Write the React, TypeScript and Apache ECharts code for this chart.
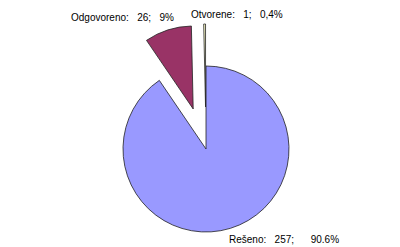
import React, { useEffect, useRef } from "react";
import * as echarts from "echarts";

const categories = ["Rešeno", "Odgovoreno", "Otvorene"];
const counts = [257, 26, 1];
const percentLabels = ["90.6%", "9%", "0,4%"];
const sliceColors = ["#9999FF", "#993366", "#FFFFCC"];
const exploded = [false, true, true];

// label anchor points (left edge, vertical middle) per slice
const labelAnchors: [number, number][] = [
  [229, 239],
  [71, 17],
  [191, 14],
];

const labelFont = "Liberation Sans, Arial, sans-serif";

export default function App() {
  const ref = useRef<HTMLDivElement>(null);

  useEffect(() => {
    if (!ref.current) return;
    const chart = echarts.init(ref.current, undefined, { renderer: "svg" });
    chart.setOption({
      animation: false,
      backgroundColor: "#ffffff",
      graphic: categories.map((name, i) => ({
        type: "text",
        x: labelAnchors[i][0],
        y: labelAnchors[i][1],
        style: {
          text: `${name}:   ${counts[i]};   ${i === 0 ? "   " : ""}${percentLabels[i]}`,
          fill: "#000",
          font: `10px ${labelFont}`,
          align: "left",
          verticalAlign: "middle",
        },
      })),
      series: [
        {
          type: "pie",
          center: [206, 149],
          radius: 83,
          startAngle: 90,
          clockwise: true,
          selectedMode: "multiple",
          selectedOffset: 42,
          emphasis: { disabled: true },
          itemStyle: { borderColor: "#222", borderWidth: 0.8 },
          label: { show: false },
          labelLine: { show: false },
          data: categories.map((name, i) => ({
            name,
            value: counts[i],
            selected: exploded[i],
            itemStyle: { color: sliceColors[i] },
          })),
        },
      ],
    });
    return () => chart.dispose();
  }, []);

  return (
    <div
      ref={ref}
      style={{ position: "absolute", left: 0, top: 0, width: 400, height: 247 }}
    />
  );
}
